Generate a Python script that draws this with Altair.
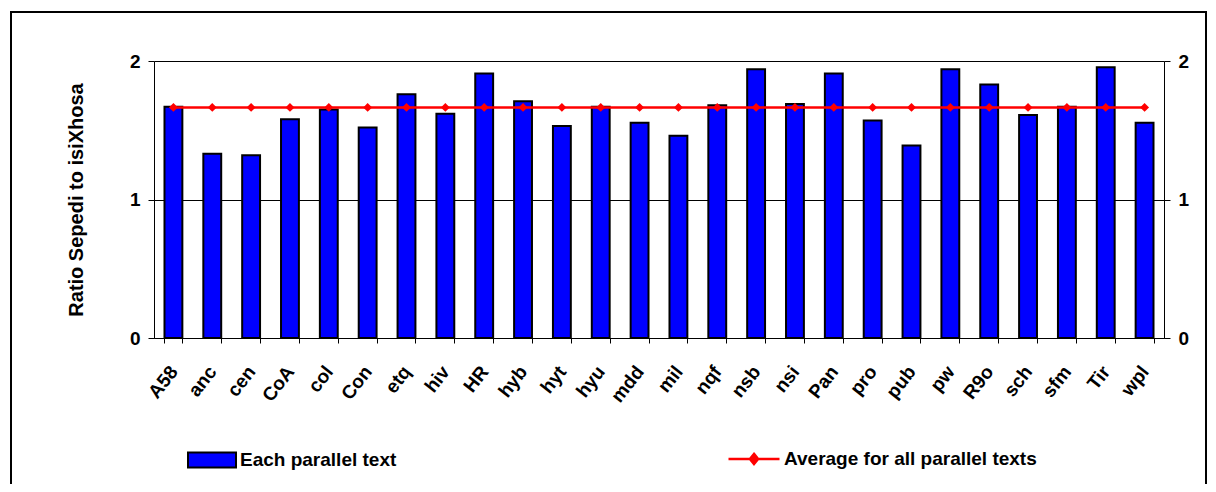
import altair as alt
import pandas as pd

categories = ["A58", "anc", "cen", "CoA", "col", "Con", "etq", "hiv", "HR", "hyb", "hyt", "hyu", "mdd",
              "mil", "nqf", "nsb", "nsi", "Pan", "pro", "pub", "pw", "R9o", "sch", "sfm", "Tir", "wpl"]
ratios = [1.67, 1.33, 1.32, 1.58, 1.65, 1.52, 1.76, 1.62, 1.91, 1.71, 1.53, 1.67, 1.555,
          1.46, 1.68, 1.94, 1.69, 1.91, 1.57, 1.39, 1.94, 1.83, 1.61, 1.67, 1.955, 1.555]
average = [1.665] * len(categories)
y_tick_count = 2
bar_label = "Each parallel text"
line_label = "Average for all parallel texts"
axis_title = "Ratio Sepedi to isiXhosa"

FONT = "Liberation Sans"

df = pd.DataFrame({"name": categories, "ratio": ratios, "avg": average,
                   "bars": bar_label, "line": line_label})

x_enc = alt.X("name:N", sort=None, title=None,
              scale=alt.Scale(paddingInner=0.54, paddingOuter=0.27),
              axis=alt.Axis(labelAngle=-52, labelAlign="right", labelBaseline="middle",
                            labelFont=FONT, labelFontSize=19, labelFontWeight="bold",
                            labelColor="black", tickColor="black", tickSize=5,
                            domainColor="black", tickBand="extent", labelPadding=25,
                            grid=False, labelOverlap=False))

yscale = alt.Scale(domain=[0, 2], nice=False)

bars = alt.Chart(df).mark_bar(stroke="black", strokeWidth=2).encode(
    x=x_enc,
    y=alt.Y("ratio:Q", scale=yscale, title=axis_title,
            axis=alt.Axis(orient="left", tickCount=y_tick_count, format="d", grid=True,
                          gridColor="black", gridWidth=1, gridOpacity=1,
                          tickSize=6, tickColor="black", domainColor="black",
                          labelPadding=8, labelFont=FONT, labelFontSize=19,
                          labelFontWeight="bold", labelColor="black", labelOverlap=False,
                          titleFont=FONT, titleFontSize=20, titleFontWeight="bold",
                          titleColor="black", titlePadding=43)),
    fill=alt.Fill("bars:N", scale=alt.Scale(domain=[bar_label], range=["#0000FF"]),
                  legend=alt.Legend(title=None, orient="none", legendX=33, legendY=374,
                                    symbolType="M-1,-0.31L1,-0.31L1,0.31L-1,0.31Z",
                                    symbolSize=2304, symbolStrokeColor="black",
                                    symbolStrokeWidth=2, labelFont=FONT, labelFontSize=19,
                                    labelFontWeight="bold", labelColor="black",
                                    labelOffset=3, labelLimit=400, padding=0)),
)

line = alt.Chart(df).mark_line(
    strokeWidth=2.5,
    point=alt.OverlayMarkDef(shape="diamond", filled=True, size=80),
).encode(
    x=x_enc,
    y=alt.Y("avg:Q", scale=yscale,
            axis=alt.Axis(orient="right", tickCount=y_tick_count, format="d", grid=False,
                          tickSize=6, tickColor="black", domainColor="black",
                          labelPadding=8, labelFont=FONT, labelFontSize=19,
                          labelFontWeight="bold", labelColor="black", labelOverlap=False,
                          title=None)),
    color=alt.Color("line:N", scale=alt.Scale(domain=[line_label], range=["#FF0000"]),
                    legend=alt.Legend(title=None, orient="none", legendX=573, legendY=371,
                                      symbolType="M-1,0L1,0M0,-0.2L0.16,0L0,0.2L-0.16,0Z",
                                      symbolSize=2601, symbolStrokeWidth=2.5,
                                      symbolFillColor="#FF0000",
                                      labelFont=FONT, labelFontSize=19,
                                      labelFontWeight="bold", labelColor="black",
                                      labelOffset=3, labelLimit=400, padding=0)),
)

frame = alt.Chart(pd.DataFrame({"k": [0]})).mark_rect(
    filled=False, stroke="black", strokeWidth=2
).encode(x=alt.value(-143), x2=alt.value(1052), y=alt.value(-49), y2=alt.value(460))

chart = alt.layer(bars, line, frame).resolve_axis(y="independent").properties(
    width=1010, height=277,
    autosize=alt.AutoSizeParams(type="none"),
    padding={"left": 146, "top": 53, "right": 44, "bottom": 146},
).configure_view(stroke=None).configure(background="white")

chart.save("out.html", embed_options={"renderer": "svg", "actions": False})
